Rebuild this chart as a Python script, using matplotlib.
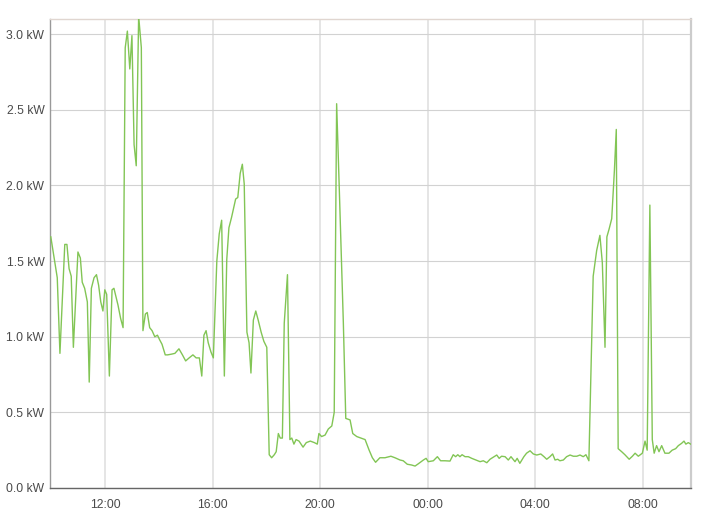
import matplotlib
matplotlib.use("Agg")
import matplotlib.pyplot as plt
from matplotlib.ticker import FixedLocator, FuncFormatter

# time in hours since midnight of the first day (values > 24 are the next day)
hours = [
    9.97, 10.21, 10.31, 10.49, 10.57, 10.65, 10.73, 10.81, 10.98, 11.07,
    11.14, 11.23, 11.33, 11.40, 11.48, 11.58, 11.67, 11.75, 11.83, 11.91,
    11.98, 12.05, 12.15, 12.25, 12.32, 12.47, 12.57, 12.66, 12.74, 12.82,
    12.91, 12.99, 13.07, 13.15, 13.24, 13.34, 13.40, 13.49, 13.56, 13.65,
    13.74, 13.84, 13.94, 14.02, 14.11, 14.23, 14.32, 14.47, 14.59, 14.74,
    14.87, 14.99, 15.12, 15.26, 15.38, 15.50, 15.59, 15.67, 15.75, 15.83,
    15.93, 16.02, 16.15, 16.24, 16.33, 16.43, 16.52, 16.60, 16.70, 16.85,
    16.93, 17.02, 17.10, 17.17, 17.27, 17.35, 17.42, 17.51, 17.60, 17.69,
    17.80, 17.90, 18.01, 18.10, 18.19, 18.29, 18.36, 18.44, 18.51, 18.59,
    18.66, 18.78, 18.87, 18.94, 19.02, 19.10, 19.21, 19.36, 19.48, 19.63,
    19.78, 19.89, 19.95, 20.05, 20.18, 20.30, 20.43, 20.52, 20.61, 20.71,
    20.86, 20.95, 21.11, 21.21, 21.36, 21.52, 21.67, 21.82, 21.94, 22.06,
    22.22, 22.41, 22.63, 22.78, 22.97, 23.09, 23.24, 23.40, 23.53, 23.65,
    23.84, 23.94, 24.02, 24.21, 24.36, 24.48, 24.64, 24.83, 24.95, 25.04,
    25.12, 25.20, 25.28, 25.39, 25.51, 25.64, 25.80, 25.95, 26.07, 26.20,
    26.32, 26.47, 26.57, 26.66, 26.75, 26.88, 27.00, 27.10, 27.25, 27.33,
    27.43, 27.58, 27.68, 27.81, 27.93, 28.06, 28.21, 28.33, 28.43, 28.55,
    28.65, 28.74, 28.84, 28.92, 29.05, 29.17, 29.30, 29.42, 29.55, 29.67,
    29.79, 29.89, 30.00, 30.16, 30.29, 30.41, 30.50, 30.60, 30.67, 30.75,
    30.85, 30.95, 31.02, 31.09, 31.22, 31.34, 31.50, 31.62, 31.72, 31.84,
    31.99, 32.09, 32.17, 32.27, 32.36, 32.43, 32.52, 32.61, 32.71, 32.83,
    32.98, 33.10, 33.23, 33.33, 33.45, 33.54, 33.61, 33.70, 33.79,
]

power_kw = [
    1.66, 1.39, 0.89, 1.61, 1.61, 1.45, 1.40, 0.93, 1.56, 1.52,
    1.36, 1.32, 1.23, 0.70, 1.32, 1.39, 1.41, 1.34, 1.23, 1.17,
    1.31, 1.28, 0.74, 1.31, 1.32, 1.21, 1.12, 1.06, 2.91, 3.02,
    2.77, 2.99, 2.27, 2.13, 3.12, 2.91, 1.04, 1.15, 1.16, 1.06,
    1.04, 1.00, 1.01, 0.98, 0.95, 0.88, 0.88, 0.885, 0.89, 0.92,
    0.88, 0.84, 0.86, 0.88, 0.86, 0.86, 0.74, 1.01, 1.04, 0.96,
    0.90, 0.86, 1.50, 1.68, 1.77, 0.74, 1.51, 1.72, 1.79, 1.91,
    1.92, 2.08, 2.14, 2.01, 1.03, 0.96, 0.76, 1.11, 1.17, 1.11,
    1.03, 0.97, 0.93, 0.22, 0.20, 0.22, 0.24, 0.36, 0.33, 0.33,
    1.09, 1.41, 0.32, 0.33, 0.29, 0.32, 0.31, 0.27, 0.30, 0.31,
    0.30, 0.29, 0.36, 0.34, 0.35, 0.39, 0.41, 0.50, 2.54, 1.97,
    1.09, 0.46, 0.45, 0.36, 0.34, 0.33, 0.32, 0.25, 0.20, 0.17,
    0.20, 0.20, 0.21, 0.20, 0.185, 0.18, 0.157, 0.152, 0.145, 0.16,
    0.185, 0.196, 0.174, 0.18, 0.207, 0.18, 0.18, 0.178, 0.22, 0.207,
    0.22, 0.207, 0.22, 0.207, 0.207, 0.196, 0.185, 0.174, 0.18, 0.167,
    0.19, 0.207, 0.218, 0.196, 0.21, 0.207, 0.185, 0.207, 0.174, 0.196,
    0.163, 0.207, 0.23, 0.246, 0.225, 0.218, 0.225, 0.207, 0.19, 0.207,
    0.225, 0.185, 0.19, 0.18, 0.185, 0.207, 0.218, 0.21, 0.21, 0.218,
    0.207, 0.22, 0.18, 1.40, 1.57, 1.67, 1.49, 0.93, 1.66, 1.71,
    1.78, 2.10, 2.37, 0.26, 0.24, 0.22, 0.19, 0.21, 0.23, 0.21,
    0.23, 0.31, 0.25, 1.87, 0.32, 0.23, 0.28, 0.24, 0.28, 0.23,
    0.23, 0.25, 0.26, 0.28, 0.295, 0.31, 0.29, 0.30, 0.29,
]

x_tick_hours = [12, 16, 20, 24, 28, 32]
x_tick_labels = ["12:00", "16:00", "20:00", "00:00", "04:00", "08:00"]
y_ticks = [0.0, 0.5, 1.0, 1.5, 2.0, 2.5, 3.0]

plt.rcParams['font.family'] = ['Liberation Sans', 'DejaVu Sans']

fig = plt.figure(figsize=(7.02, 5.17), dpi=100)
ax = fig.add_axes([50 / 702, 1 - 488 / 517, (690.7 - 50) / 702, (488 - 19) / 517])

ax.plot(hours, power_kw, color='#82c555', lw=1.0, zorder=3)

ax.set_xlim(9.94, 33.79)
ax.set_ylim(0, 3.1)

ax.xaxis.set_major_locator(FixedLocator(x_tick_hours))
ax.set_xticklabels(x_tick_labels)
ax.yaxis.set_major_locator(FixedLocator(y_ticks))
ax.yaxis.set_major_formatter(FuncFormatter(lambda v, p: f"{v:.1f} kW"))

ax.tick_params(axis='both', length=0, labelsize=8.7, labelcolor='#4a4a4a')
ax.tick_params(axis='y', pad=4)
ax.tick_params(axis='x', pad=8)

ax.grid(axis='y', color='#d2d2d2', lw=0.8)
ax.grid(axis='x', color='#e0e0e0', lw=1.2)
ax.set_axisbelow(True)

ax.spines['left'].set_color('#999999')
ax.spines['left'].set_linewidth(1.0)
ax.spines['bottom'].set_color('#666666')
ax.spines['bottom'].set_linewidth(1.0)
ax.spines['top'].set_color('#e0d6d0')
ax.spines['top'].set_linewidth(1.0)
ax.spines['right'].set_color('#cccccc')
ax.spines['right'].set_linewidth(1.6)

fig.savefig('out.png', dpi=100)
